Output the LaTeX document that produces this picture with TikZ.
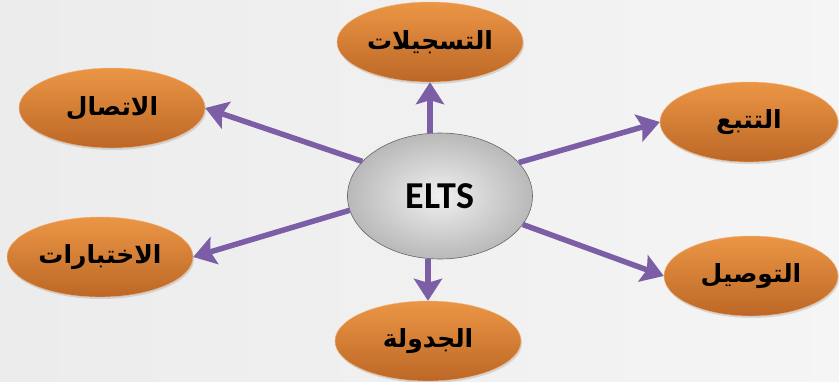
\documentclass[tikz,border=0pt]{standalone}
\usepackage{fontspec}
\usepackage{tikz}
\usetikzlibrary{arrows.meta,shapes.geometric,shadows}
\setsansfont{Carlito}
\newfontfamily\arabicfont[Script=Arabic]{DejaVu Sans}
\TeXXeTstate=1
\newcommand{\artxt}[1]{{\arabicfont\bfseries\beginR #1\endR}}
\definecolor{linkpurple}{HTML}{7B5EA6}
\definecolor{leaftop}{HTML}{EB9645}
\definecolor{leafbot}{HTML}{BC6726}
\definecolor{leafrim}{HTML}{F2B27A}
\begin{document}
\begin{tikzpicture}[x=1pt,y=-1pt,
      leaf/.style={ellipse,draw=leafrim,thin,top color=leaftop,bottom color=leafbot,
        minimum width=186pt,minimum height=80pt,inner sep=0pt,font=\fontsize{25}{28}\selectfont,
        drop shadow={opacity=0.25,shadow xshift=1pt,shadow yshift=-2pt}},
      hub/.style={ellipse,draw=black!60,semithick,inner color=gray!12,outer color=gray!55,
        minimum width=185pt,minimum height=126pt,inner sep=0pt,
        font=\sffamily\bfseries\fontsize{38}{40}\selectfont},
      link/.style={draw=linkpurple,line width=5.5pt,-{Stealth[length=22pt,width=28pt,inset=4pt]}}]
      \useasboundingbox (0,0) rectangle (839,381);
      \fill[left color=gray!15,right color=gray!8] (0,0) rectangle (839,381);
      \node[hub] (hub) at (440,196) {ELTS};
      \node[leaf] (tasjil) at (430,42)  {\artxt{التسجيلات}};
      \node[leaf] (ittisal) at (112,108) {\artxt{الاتصال}};
      \node[leaf,minimum width=178pt] (tatabbu) at (749,122) {\artxt{التتبع}};
      \node[leaf] (ikhtibar) at (100,257) {\artxt{الاختبارات}};
      \node[leaf,minimum width=174pt] (tawsil) at (751,276) {\artxt{التوصيل}};
      \node[leaf] (jadwala) at (428,341) {\artxt{الجدولة}};
      \draw[link] (tasjil.south |- hub.north) -- (tasjil.south);
      \draw[link] (hub.156) -- (ittisal.east);
      \draw[link] (hub.23) -- (tatabbu.west);
      \draw[link] (hub.189) -- (ikhtibar.east);
      \draw[link] (hub.341) -- (tawsil.west);
      \draw[link] (jadwala.north |- hub.south) -- (jadwala.north);
    \end{tikzpicture}
\end{document}
